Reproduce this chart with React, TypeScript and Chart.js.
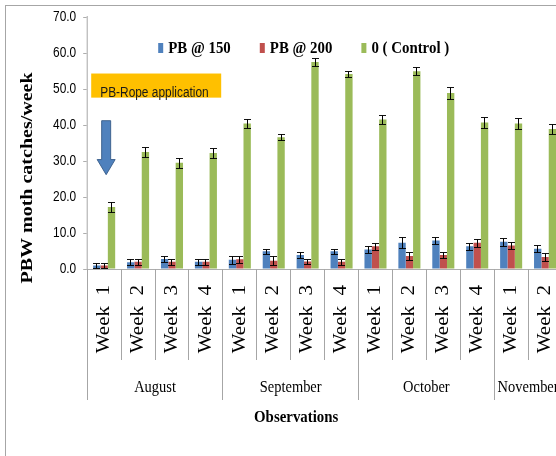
import React, { useEffect, useRef } from "react";
import { Chart, registerables } from "chart.js";

Chart.register(...registerables);

// ---------- data ----------
const weekLabels = [
  "Week 1", "Week 2", "Week 3", "Week 4",
  "Week 1", "Week 2", "Week 3", "Week 4",
  "Week 1", "Week 2", "Week 3", "Week 4",
  "Week 1", "Week 2",
];
const monthNames = ["August", "September", "October", "November"];
const monthSpans = [4, 4, 4, 2];

const seriesNames = ["PB @ 150", "PB @ 200", "0 ( Control )"];

const pb150 = [1.0, 1.9, 2.8, 2.0, 2.6, 4.9, 3.9, 4.9, 5.4, 7.3, 7.9, 6.3, 7.6, 5.6];
const pb150Err = [0.8, 0.85, 0.9, 0.85, 1.15, 0.7, 0.8, 0.75, 0.9, 1.5, 0.9, 0.9, 1.15, 1.0];

const pb200 = [1.0, 2.0, 2.0, 2.0, 2.7, 2.3, 2.1, 2.0, 6.3, 3.6, 3.9, 7.3, 6.5, 3.3];
const pb200Err = [0.8, 0.85, 0.85, 0.85, 1.0, 1.3, 0.7, 0.75, 0.9, 1.05, 0.9, 1.15, 0.95, 1.15];

const control = [17.2, 32.5, 29.5, 32.2, 40.4, 36.6, 57.5, 54.2, 41.5, 54.9, 48.9, 40.7, 40.4, 38.9];
const controlErr = [1.4, 1.4, 1.4, 1.4, 1.15, 0.8, 1.0, 0.8, 1.3, 1.15, 1.75, 1.4, 1.6, 1.4];

const yMin = 0;
const yMax = 70;
const yStep = 10;

const annotationText = "PB-Rope application";
const yTitle = "PBW moth catches/week";
const xTitle = "Observations";

// ---------- styles ----------
const K = 0.85; // horizontal condensing of the whole drawing
const seriesColors = ["#4F81BD", "#C0504D", "#9BBB59"];
const errors = [pb150Err, pb200Err, controlErr];
const values = [pb150, pb200, control];
const AXIS_GRAY = "#A6A6A6";
const SERIF = '"Liberation Serif", "Times New Roman", serif';
const SANS = '"Liberation Sans", Arial, sans-serif';

const px = (pagePx: number) => pagePx / K; // page pixels -> internal units
const snap = (internalX: number) => (Math.round(internalX * K - 0.5) + 0.5) / K;

const decorPlugin = {
  id: "decor",
  beforeDraw(chart: any) {
    const { ctx, width, height } = chart;
    ctx.save();
    ctx.fillStyle = "#ffffff";
    ctx.fillRect(0, 0, width, height);
    ctx.strokeStyle = AXIS_GRAY;
    ctx.lineWidth = 1;
    ctx.strokeRect(5.5, 5.5, width + 20, height + 20);
    ctx.restore();
    ctx.save();
    ctx.scale(K, 1);
  },
  afterDatasetsDraw(chart: any) {
    const { ctx } = chart;
    const yScale = chart.scales.y;
    ctx.save();
    ctx.strokeStyle = "#000000";
    values.forEach((vals, di) => {
      const meta = chart.getDatasetMeta(di);
      meta.data.forEach((bar: any, j: number) => {
        const v = vals[j];
        const e = errors[di][j];
        const x = snap(bar.x);
        const yt = Math.round(yScale.getPixelForValue(v + e)) + 0.5;
        const yb = Math.round(yScale.getPixelForValue(Math.max(v - e, 0))) + 0.5;
        const cap = px(3.5);
        ctx.lineWidth = 1 / K;
        ctx.beginPath();
        ctx.moveTo(x, yt);
        ctx.lineTo(x, yb);
        ctx.stroke();
        ctx.lineWidth = 1;
        ctx.beginPath();
        ctx.moveTo(x - cap, yt);
        ctx.lineTo(x + cap, yt);
        ctx.moveTo(x - cap, yb);
        ctx.lineTo(x + cap, yb);
        ctx.stroke();
      });
    });
    ctx.restore();
  },
  afterDraw(chart: any) {
    const { ctx, chartArea } = chart;
    const xScale = chart.scales.x;
    const yScale = chart.scales.y;
    const half = (xScale.getPixelForValue(1) - xScale.getPixelForValue(0)) / 2;
    const bottom = chartArea.bottom;

    ctx.save();
    // category / month dividers below the axis
    const monthStarts: number[] = [0];
    monthSpans.forEach((s, i) => monthStarts.push(monthStarts[i] + s));
    ctx.strokeStyle = AXIS_GRAY;
    ctx.lineWidth = 1 / K;
    for (let k = 0; k <= weekLabels.length; k++) {
      const x = snap(xScale.getPixelForValue(k) - half);
      const isMonth = monthStarts.includes(k);
      ctx.beginPath();
      ctx.moveTo(x, bottom);
      ctx.lineTo(x, bottom + (isMonth ? 131 : 91));
      ctx.stroke();
    }

    // month labels
    ctx.fillStyle = "#000000";
    ctx.font = `17px ${SERIF}`;
    ctx.textAlign = "center";
    ctx.textBaseline = "middle";
    monthNames.forEach((m, i) => {
      const a = xScale.getPixelForValue(monthStarts[i]) - half;
      const b = xScale.getPixelForValue(monthStarts[i + 1] - 1) + half;
      ctx.fillText(m, (a + b) / 2, bottom + 119);
    });

    // x title
    ctx.font = `bold 17.5px ${SERIF}`;
    ctx.fillText(xTitle, chartArea.left + px(209), bottom + 148);

    // y title
    ctx.save();
    ctx.translate(px(28), (chartArea.top + bottom) / 2 + 35);
    ctx.rotate(-Math.PI / 2);
    ctx.font = `bold 20px ${SERIF}`;
    ctx.textAlign = "center";
    ctx.textBaseline = "middle";
    ctx.fillText(yTitle, 0, 0);
    ctx.restore();

    // legend (inside plot area)
    ctx.font = `bold 17.5px ${SERIF}`;
    ctx.textAlign = "left";
    ctx.textBaseline = "middle";
    let lx = chartArea.left + px(71);
    const ly = chartArea.top + 31;
    seriesNames.forEach((name, i) => {
      ctx.fillStyle = seriesColors[i];
      ctx.fillRect(lx, ly - 5, px(5), 10);
      ctx.fillStyle = "#000000";
      ctx.fillText(name, lx + px(10), ly);
      lx += px(10) + ctx.measureText(name).width + px(29);
    });

    // annotation box
    const boxTop = yScale.getPixelForValue(54.3);
    const boxBot = yScale.getPixelForValue(47.6);
    const boxL = chartArea.left + px(4);
    ctx.fillStyle = "#FFC000";
    ctx.fillRect(boxL, boxTop, px(130), boxBot - boxTop);
    ctx.fillStyle = "#1a1a1a";
    ctx.font = `14px ${SANS}`;
    ctx.textBaseline = "alphabetic";
    ctx.fillText(annotationText, boxL + px(9), boxBot - 1);

    // arrow
    const ax = xScale.getPixelForValue(0) + px(2);
    const aTop = yScale.getPixelForValue(41.2);
    const aHead = yScale.getPixelForValue(30.4);
    const aTip = yScale.getPixelForValue(26.2);
    const sw = px(4.5);
    const hw = px(9);
    ctx.beginPath();
    ctx.moveTo(ax - sw, aTop);
    ctx.lineTo(ax + sw, aTop);
    ctx.lineTo(ax + sw, aHead);
    ctx.lineTo(ax + hw, aHead);
    ctx.lineTo(ax, aTip);
    ctx.lineTo(ax - hw, aHead);
    ctx.lineTo(ax - sw, aHead);
    ctx.closePath();
    ctx.fillStyle = "#4F81BD";
    ctx.fill();
    ctx.strokeStyle = "#385D8A";
    ctx.lineWidth = 1;
    ctx.stroke();

    ctx.restore();
    // undo the condensing transform set in beforeDraw
    ctx.restore();
  },
};

export default function App() {
  const ref = useRef<HTMLCanvasElement>(null);
  useEffect(() => {
    const canvas = ref.current;
    if (!canvas) return;
    const chart = new Chart(canvas, {
      type: "bar",
      data: {
        labels: weekLabels,
        datasets: seriesNames.map((name, i) => ({
          label: name,
          data: values[i],
          backgroundColor: seriesColors[i],
          borderWidth: 0,
          categoryPercentage: 0.65,
          barPercentage: 1.0,
        })),
      },
      options: {
        responsive: false,
        animation: false,
        devicePixelRatio: 1,
        layout: { padding: { top: 17, right: 4.8, bottom: 0, left: 0 } },
        plugins: {
          legend: { display: false },
          tooltip: { enabled: false },
        },
        scales: {
          x: {
            grid: { display: false, drawTicks: false },
            border: { display: true, color: AXIS_GRAY, width: 1 },
            ticks: {
              autoSkip: false,
              minRotation: 90,
              maxRotation: 90,
              padding: 16,
              color: "#000000",
              font: { family: SERIF, size: 21 },
              callback: (_v: any, i: number) => weekLabels[i].replace(" ", "  "),
            },
            afterFit: (s: any) => {
              s.height = 187;
              s.paddingLeft = 0;
              s.paddingRight = 0;
            },
          },
          y: {
            min: yMin,
            max: yMax,
            grid: {
              display: true,
              drawOnChartArea: false,
              drawTicks: true,
              tickLength: px(4),
              color: AXIS_GRAY,
              lineWidth: 1,
            },
            border: { display: true, color: AXIS_GRAY, width: 1 / K },
            ticks: {
              stepSize: yStep,
              padding: px(7),
              color: "#000000",
              font: { family: SANS, size: 14 },
              callback: (v: any) => Number(v).toFixed(1),
            },
            afterFit: (s: any) => {
              s.width = px(87.2);
            },
          },
        },
      },
      plugins: [decorPlugin],
    } as any);
    return () => chart.destroy();
  }, []);

  return (
    <div
      style={{
        position: "fixed",
        left: 0,
        top: 0,
        width: 556,
        height: 456,
        overflow: "hidden",
        background: "#ffffff",
      }}
    >
      <canvas ref={ref} width={666} height={456} style={{ display: "block", width: 666, height: 456 }} />
    </div>
  );
}
